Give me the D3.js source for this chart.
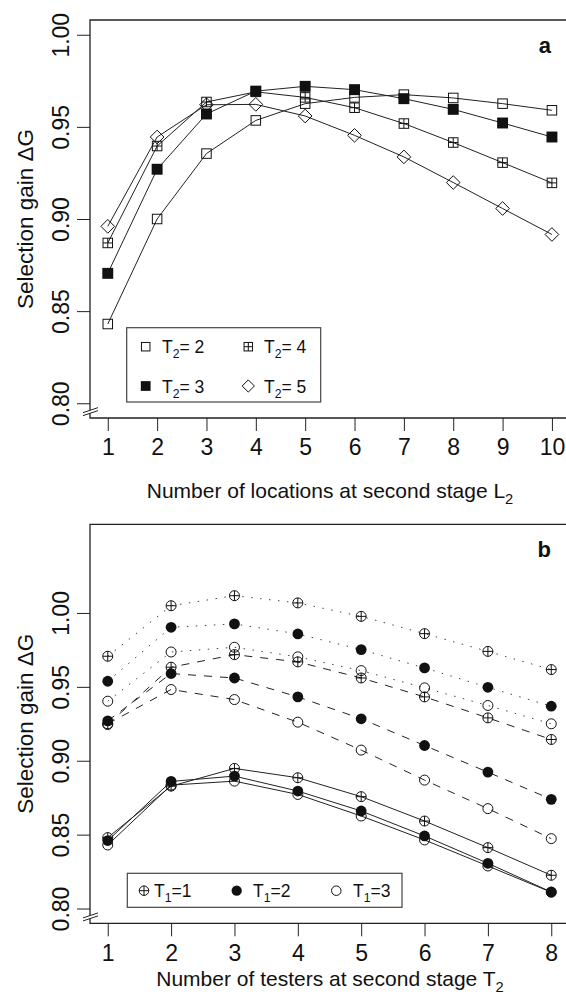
<!DOCTYPE html>
<html>
<head>
<meta charset="utf-8">
<script src="https://cdn.jsdelivr.net/npm/d3@7"></script>
<style>
  body { margin: 0; background: #fff; }
  svg { display: block; }
  text { font-family: "Liberation Sans", Arial, Helvetica, sans-serif; fill: #111; }
</style>
</head>
<body>
<div class="plot"></div>
<script>
// panel a: x = number of locations at second stage
const locationsL2 = [1, 2, 3, 4, 5, 6, 7, 8, 9, 10];
const gainT2_2 = [0.843, 0.900, 0.9355, 0.9535, 0.9626, 0.966, 0.9675, 0.9657, 0.9626, 0.959];
const gainT2_3 = [0.8705, 0.927, 0.957, 0.9694, 0.972, 0.9702, 0.9653, 0.9595, 0.9521, 0.9445];
const gainT2_4 = [0.887, 0.9396, 0.9635, 0.969, 0.966, 0.9604, 0.9518, 0.9415, 0.9306, 0.9196];
const gainT2_5 = [0.896, 0.9445, 0.962, 0.9622, 0.9559, 0.9454, 0.9337, 0.9198, 0.9057, 0.8916];

// panel b: x = number of testers at second stage
const testersT2 = [1, 2, 3, 4, 5, 6, 7, 8];
// dotted group
const dotT1_1 = [0.9707, 1.0049, 1.0117, 1.0068, 0.9977, 0.986, 0.974, 0.9617];
const dotT1_2 = [0.9538, 0.9903, 0.9926, 0.9858, 0.9752, 0.9628, 0.9497, 0.9369];
const dotT1_3 = [0.9403, 0.9736, 0.9768, 0.9703, 0.961, 0.9493, 0.9374, 0.925];
// dashed group
const dashT1_1 = [0.9245, 0.9633, 0.9718, 0.9669, 0.956, 0.9432, 0.929, 0.9144];
const dashT1_2 = [0.927, 0.959, 0.956, 0.9432, 0.9284, 0.9103, 0.8923, 0.8739];
const dashT1_3 = [0.925, 0.9482, 0.9414, 0.9261, 0.9072, 0.8869, 0.8676, 0.8473];
// solid group
const solidT1_1 = [0.848, 0.8828, 0.8948, 0.8885, 0.8757, 0.8592, 0.8412, 0.8225];
const solidT1_2 = [0.846, 0.8860, 0.8896, 0.8795, 0.866, 0.8491, 0.8306, 0.8112];
const solidT1_3 = [0.843, 0.8835, 0.8862, 0.8772, 0.8626, 0.8464, 0.8288, 0.8110];

const yTicks = [0.80, 0.85, 0.90, 0.95, 1.00];

let svg = d3.select(".plot").append("svg")
  .attr("width", 566)
  .attr("height", 1001);

// symbol painters (R pch look-alikes)
function drawSymbol(g, kind, cx, cy, s) {
  let h = s / 2;
  if (kind == "square") {
    g.append("rect").attr("x", cx - h).attr("y", cy - h).attr("width", s).attr("height", s)
      .attr("fill", "none").attr("stroke", "#111").attr("stroke-width", 1);
  } else if (kind == "squareFill") {
    let f = s * 1.15, hf = f / 2;
    g.append("rect").attr("x", cx - hf).attr("y", cy - hf).attr("width", f).attr("height", f)
      .attr("fill", "#111");
  } else if (kind == "squarePlus") {
    g.append("rect").attr("x", cx - h).attr("y", cy - h).attr("width", s).attr("height", s)
      .attr("fill", "none").attr("stroke", "#111").attr("stroke-width", 1);
    g.append("path").attr("d", `M${cx - h},${cy}H${cx + h}M${cx},${cy - h}V${cy + h}`)
      .attr("stroke", "#111").attr("stroke-width", 1);
  } else if (kind == "diamond") {
    let d = s * 0.72;
    g.append("path").attr("d", `M${cx},${cy - d}L${cx + d},${cy}L${cx},${cy + d}L${cx - d},${cy}Z`)
      .attr("fill", "none").attr("stroke", "#111").attr("stroke-width", 1);
  } else if (kind == "circle") {
    g.append("circle").attr("cx", cx).attr("cy", cy).attr("r", h)
      .attr("fill", "none").attr("stroke", "#111").attr("stroke-width", 1);
  } else if (kind == "circleFill") {
    g.append("circle").attr("cx", cx).attr("cy", cy).attr("r", h * 1.08).attr("fill", "#111");
  } else if (kind == "circlePlus") {
    g.append("circle").attr("cx", cx).attr("cy", cy).attr("r", h)
      .attr("fill", "none").attr("stroke", "#111").attr("stroke-width", 1);
    g.append("path").attr("d", `M${cx - h},${cy}H${cx + h}M${cx},${cy - h}V${cy + h}`)
      .attr("stroke", "#111").attr("stroke-width", 1);
  }
}

// subscripted label like T<sub>2</sub>= 2
function subText(g, x, y, base, sub, rest, size, anchor) {
  let t = g.append("text").attr("x", x).attr("y", y).style("font-size", size + "px")
    .attr("text-anchor", anchor || "start");
  t.append("tspan").text(base);
  t.append("tspan").attr("dy", size * 0.3).style("font-size", (size * 0.7) + "px").text(sub);
  if (rest) t.append("tspan").attr("dy", -size * 0.3).text(rest);
  return t;
}

function drawPanel(p) {
  let g = svg.append("g");
  let x = d3.scaleLinear().domain(p.xDomain).range([90, p.right]);
  let y = d3.scaleLinear().domain(p.yDomain).range([p.bottom, p.top]);

  // box
  g.append("path")
    .attr("d", `M90,${p.bottom}V${p.top}H${p.right}V${p.bottom}Z`)
    .attr("fill", "none").attr("stroke", "#222").attr("stroke-width", 1.3);

  // axis break on the left axis
  let by = (y(0.80) + p.bottom) / 2 + 1;
  g.append("path")
    .attr("d", `M83,${by + 1}L98,${by - 4}L98,${by - 1}L83,${by + 4}Z`)
    .attr("fill", "#fff");
  g.append("path")
    .attr("d", `M83,${by + 1}L98,${by - 4}M83,${by + 4}L98,${by - 1}`)
    .attr("stroke", "#222").attr("stroke-width", 1);

  // x axis
  let xAxis = d3.axisBottom(x).tickValues(p.xs).tickSize(13).tickPadding(8)
    .tickFormat(d3.format("d"));
  let gx = g.append("g").attr("transform", `translate(0,${p.bottom})`).call(xAxis);
  gx.select(".domain").remove();
  gx.selectAll("line").attr("stroke", "#222");
  gx.selectAll("text").style("font-size", "23px").attr("fill", "#111");

  // y axis
  let yAxis = d3.axisLeft(y).tickValues(yTicks).tickSize(13).tickFormat(d3.format(".2f"));
  let gy = g.append("g").attr("transform", "translate(90,0)").call(yAxis);
  gy.select(".domain").remove();
  gy.selectAll("line").attr("stroke", "#222");
  gy.selectAll("text")
    .style("font-size", "23px").attr("fill", "#111")
    .attr("transform", "rotate(-90)")
    .attr("x", 0).attr("y", -21).attr("dy", 0)
    .attr("text-anchor", "middle");

  // titles
  subText(g, 330, p.titleY, p.xTitle, p.xSub, null, 21, "middle");
  g.append("text")
    .attr("transform", `translate(33,${(p.top + p.bottom) / 2}) rotate(-90)`)
    .attr("text-anchor", "middle")
    .style("font-size", "22.5px")
    .text("Selection gain \u0394G");
  g.append("text")
    .attr("x", 551).attr("y", p.top + 33)
    .attr("text-anchor", "end")
    .style("font-size", "22px").style("font-weight", "bold")
    .text(p.letter);

  // series
  let line = d3.line().x(d => x(d[0])).y(d => y(d[1]));
  p.series.forEach(function(s) {
    let pts = p.xs.map((v, i) => [v, s.values[i]]);
    g.append("path").datum(pts)
      .attr("d", line)
      .attr("fill", "none")
      .attr("stroke", s.dash == "dot" ? "#444" : "#222")
      .attr("stroke-width", 1)
      .attr("stroke-dasharray", s.dash == "dot" ? "1.5,7.5" : (s.dash == "dash" ? "8,8" : null));
  });
  p.series.forEach(function(s) {
    p.xs.forEach(function(v, i) {
      drawSymbol(g, s.symbol, x(v), y(s.values[i]), p.symSize);
    });
  });

  // legend
  let lg = g.append("g");
  lg.append("rect")
    .attr("x", p.legend.x0).attr("y", p.legend.y0)
    .attr("width", p.legend.x1 - p.legend.x0).attr("height", p.legend.y1 - p.legend.y0)
    .attr("fill", "#fff").attr("stroke", "#444").attr("stroke-width", 1.2);
  p.legend.items.forEach(function(it) {
    drawSymbol(lg, it.symbol, it.sx, it.y, p.legend.symSize);
    subText(lg, it.tx, it.y + 6.5, "T", it.sub, it.rest, 17.5);
  });
}

drawPanel({
  xDomain: [0.64, 10.36], yDomain: [0.792, 1.008],
  top: 20, bottom: 418, right: 569.7,
  xs: locationsL2,
  xTitle: "Number of locations at second stage L", xSub: "2",
  titleY: 498,
  letter: "a",
  symSize: 9.5,
  series: [
    { values: gainT2_2, symbol: "square", dash: null },
    { values: gainT2_3, symbol: "squareFill", dash: null },
    { values: gainT2_4, symbol: "squarePlus", dash: null },
    { values: gainT2_5, symbol: "diamond", dash: null }
  ],
  legend: {
    x0: 126.7, x1: 320.7, y0: 327.7, y1: 402, symSize: 8.5,
    items: [
      { symbol: "square", sx: 145.7, tx: 162, y: 346.7, sub: "2", rest: "= 2" },
      { symbol: "squareFill", sx: 145.7, tx: 162, y: 386, sub: "2", rest: "= 3" },
      { symbol: "squarePlus", sx: 248.3, tx: 264, y: 346.7, sub: "2", rest: "= 4" },
      { symbol: "diamond", sx: 248.3, tx: 264, y: 386, sub: "2", rest: "= 5" }
    ]
  }
});

drawPanel({
  xDomain: [0.72, 8.28], yDomain: [0.79, 1.06],
  top: 524.3, bottom: 923.3, right: 569,
  xs: testersT2,
  xTitle: "Number of testers at second stage T", xSub: "2",
  titleY: 986,
  letter: "b",
  symSize: 10,
  series: [
    { values: dotT1_1, symbol: "circlePlus", dash: "dot" },
    { values: dotT1_2, symbol: "circleFill", dash: "dot" },
    { values: dotT1_3, symbol: "circle", dash: "dot" },
    { values: dashT1_1, symbol: "circlePlus", dash: "dash" },
    { values: dashT1_2, symbol: "circleFill", dash: "dash" },
    { values: dashT1_3, symbol: "circle", dash: "dash" },
    { values: solidT1_1, symbol: "circlePlus", dash: null },
    { values: solidT1_2, symbol: "circleFill", dash: null },
    { values: solidT1_3, symbol: "circle", dash: null }
  ],
  legend: {
    x0: 127.3, x1: 402, y0: 873.3, y1: 907.3, symSize: 9.5,
    items: [
      { symbol: "circlePlus", sx: 144, tx: 154, y: 890.7, sub: "1", rest: "=1" },
      { symbol: "circleFill", sx: 236.7, tx: 253, y: 890.7, sub: "1", rest: "=2" },
      { symbol: "circle", sx: 336.3, tx: 353, y: 890.7, sub: "1", rest: "=3" }
    ]
  }
});
</script>
</body>
</html>
